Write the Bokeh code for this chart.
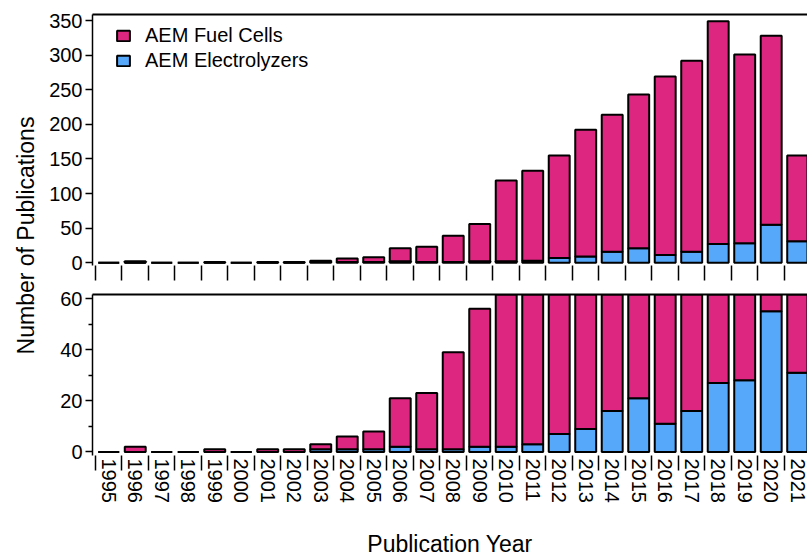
import math
from bokeh.plotting import figure
from bokeh.models import (ColumnDataSource, Range1d, FixedTicker, LinearAxis,
                          Legend, LegendItem, Label)
from bokeh.layouts import row, column
from bokeh.embed import file_html
from bokeh.resources import INLINE

# ---------------- data ----------------
years = list(range(1995, 2022))
fuel_cells = [0, 2, 0, 0, 1, 0, 1, 1, 2, 5, 7, 19, 22, 38, 54, 117, 130, 148,
              183, 198, 222, 258, 276, 322, 273, 273, 124]
electrolyzers = [0, 0, 0, 0, 0, 0, 0, 0, 1, 1, 1, 2, 1, 1, 2, 2, 3, 7,
                 9, 16, 21, 11, 16, 27, 28, 55, 31]
top_ticks = [0, 50, 100, 150, 200, 250, 300, 350]
bottom_ticks = [0, 20, 40, 60]
bottom_minor_ticks = [10, 30, 50]
series_labels = ["AEM Fuel Cells", "AEM Electrolyzers"]
x_title = "Publication Year"
y_title = "Number of Publications"

MAGENTA = "#DC267F"
BLUE = "#56A9FA"
FONT = "Liberation Sans"

totals = [f + e for f, e in zip(fuel_cells, electrolyzers)]
src = ColumnDataSource(dict(x=years, e=electrolyzers, t=totals))

boundaries = [y - 0.5 for y in years] + [years[-1] + 0.5]


def make_panel(y_start, y_end, frame_h, b_top, b_bottom, show_labels,
               yticks, yminor):
    p = figure(frame_width=715, frame_height=frame_h,
               x_range=Range1d(1994.387, 2021.37),
               y_range=Range1d(y_start, y_end),
               output_backend="svg", toolbar_location=None,
               min_border_left=50, min_border_right=0,
               min_border_top=b_top, min_border_bottom=b_bottom)
    p.outline_line_color = None
    p.grid.visible = False
    p.background_fill_color = "white"
    p.border_fill_color = "white"

    blue = p.vbar(x="x", bottom=0, top="e", width=0.79, source=src,
                  fill_color=BLUE, line_color="black", line_width=2)
    mag = p.vbar(x="x", bottom="e", top="t", width=0.79, source=src,
                 fill_color=MAGENTA, line_color="black", line_width=2)

    xa = p.xaxis[0]
    xa.axis_line_color = None
    xa.major_tick_out = 0
    xa.major_tick_in = 0
    xa.minor_tick_out = 15
    xa.minor_tick_in = 0
    xa.minor_tick_line_color = "black"
    xa.minor_tick_line_width = 1.5
    if show_labels:
        xa.ticker = FixedTicker(ticks=years, minor_ticks=boundaries)
        xa.major_label_orientation = "vertical"
        xa.major_label_text_font = FONT
        xa.major_label_text_font_size = "20px"
        xa.major_label_text_color = "black"
        xa.major_label_standoff = -12
        xa.axis_label = x_title
        xa.axis_label_text_font = FONT
        xa.axis_label_text_font_size = "23px"
        xa.axis_label_text_font_style = "normal"
        xa.axis_label_text_color = "black"
        xa.axis_label_standoff = 25
    else:
        xa.ticker = FixedTicker(ticks=[], minor_ticks=boundaries)
        xa.major_label_standoff = 0

    ya = p.yaxis[0]
    ya.ticker = FixedTicker(ticks=yticks, minor_ticks=yminor)
    ya.axis_line_color = "black"
    ya.axis_line_width = 1.5
    ya.major_tick_out = 7
    ya.major_tick_in = 0
    ya.major_tick_line_width = 1.5
    ya.minor_tick_out = 4
    ya.minor_tick_in = 0
    ya.minor_tick_line_width = 1.5
    ya.major_label_text_font = FONT
    ya.major_label_text_font_size = "20px"
    ya.major_label_text_color = "black"
    ya.major_label_standoff = 3

    top_line = LinearAxis(ticker=FixedTicker(ticks=[]),
                          axis_line_width=2, axis_line_color="black",
                          major_tick_out=0, minor_tick_out=0)
    p.add_layout(top_line, "above")
    return p, blue, mag


top, blue_r, mag_r = make_panel(-4, 358.7, 251, 14, 18, False, top_ticks, [])
bottom, _, _ = make_panel(-1.4, 61.57, 161, 11, 101, True,
                          bottom_ticks, bottom_minor_ticks)

legend = Legend(items=[LegendItem(label=series_labels[0], renderers=[mag_r]),
                       LegendItem(label=series_labels[1], renderers=[blue_r])],
                location=(23, 193))
legend.border_line_color = None
legend.background_fill_alpha = 0
legend.label_text_font = FONT
legend.label_text_font_size = "20px"
legend.label_text_color = "black"
legend.glyph_width = 16
legend.glyph_height = 13
legend.label_standoff = 14
legend.label_height = 20
legend.spacing = 2
legend.padding = 0
legend.margin = 0
top.add_layout(legend)

lab = figure(width=42, height=556, x_range=Range1d(0, 1), y_range=Range1d(0, 1),
             toolbar_location=None, output_backend="svg", min_border=0,
             x_axis_location=None, y_axis_location=None)
lab.outline_line_color = None
lab.grid.visible = False
lab.add_layout(Label(x=25, y=556 - 235, x_units="screen", y_units="screen",
                     text=y_title, angle=math.pi / 2, text_align="center",
                     text_baseline="middle", text_font_size="23px",
                     text_font=FONT, text_color="black"))

layout = row(lab, column(top, bottom, spacing=0), spacing=0)

open("out.html", "w").write(file_html(layout, INLINE))
